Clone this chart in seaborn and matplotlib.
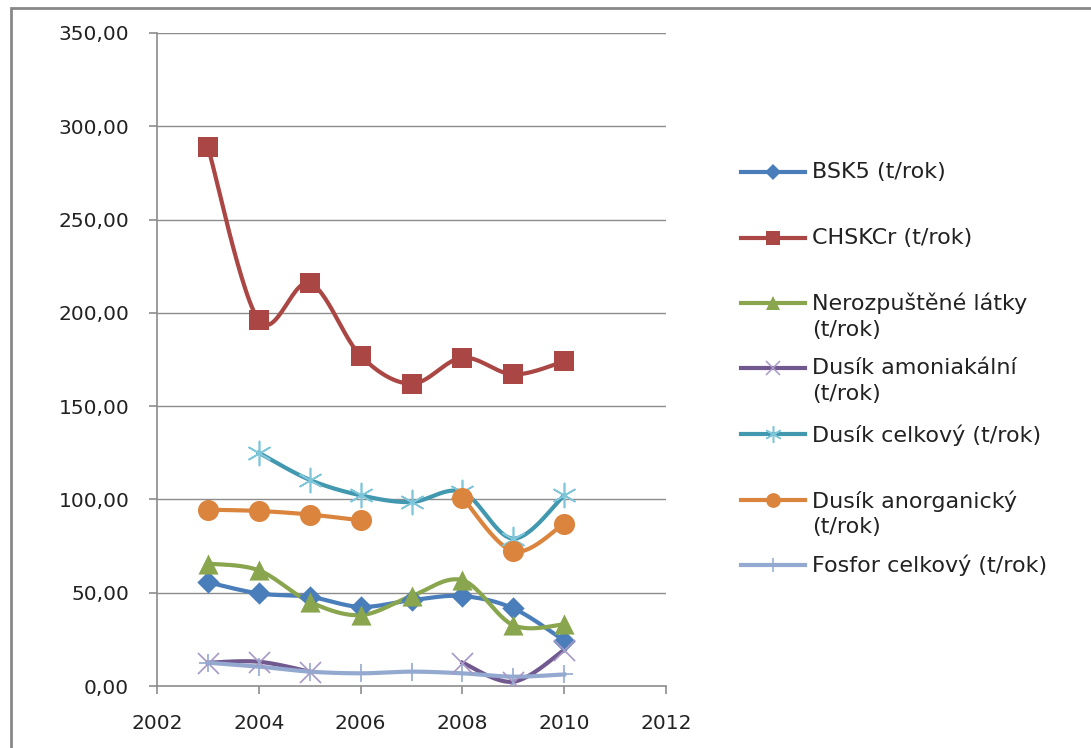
import numpy as np
import pandas as pd
import matplotlib
matplotlib.use("Agg")
import matplotlib.pyplot as plt
import seaborn as sns
from matplotlib.lines import Line2D
from matplotlib.patches import Rectangle
from matplotlib.ticker import FuncFormatter, MultipleLocator

nan = np.nan

years = [2003, 2004, 2005, 2006, 2007, 2008, 2009, 2010]
bsk5 = [55.6, 49.6, 47.8, 42.4, 46.0, 48.2, 41.6, 24.3]
chskcr = [289.0, 196.0, 216.0, 177.0, 162.0, 176.0, 167.0, 174.0]
nerozpustene = [65.6, 62.0, 45.1, 38.0, 48.2, 56.7, 32.6, 33.0]
dusik_amon = [12.5, 13.0, 7.7, nan, nan, 12.5, 2.3, 19.3]
dusik_celk = [nan, 125.0, 110.5, 102.2, 98.6, 104.0, 79.0, 102.2]
dusik_anorg = [94.5, 93.8, 91.9, 88.8, nan, 101.0, 72.2, 87.0]
fosfor = [12.5, 10.4, 7.7, 6.8, 7.7, 6.8, 5.0, 6.2]

labels = ["BSK5 (t/rok)", "CHSKCr (t/rok)", "Nerozpuštěné látky\n(t/rok)",
          "Dusík amoniakální\n(t/rok)", "Dusík celkový (t/rok)",
          "Dusík anorganický\n(t/rok)", "Fosfor celkový (t/rok)"]
series = [bsk5, chskcr, nerozpustene, dusik_amon, dusik_celk, dusik_anorg, fosfor]

# line colour, marker, marker colour, marker size (scatter s)
styles = [
    ("#4A7EBB", "D", "#4A7EBB", 130),
    ("#AA4643", "s", "#AA4643", 220),
    ("#89A54E", "^", "#89A54E", 210),
    ("#71588F", "x", "#A898C8", 230),
    ("#4198AF", (6, 2, 0), "#7FC6DA", 300),
    ("#DB843D", "o", "#DB843D", 230),
    ("#93A9CF", "+", "#93A9CF", 180),
]


def smooth(xs, ys, n=30):
    # excel-like smoothed line: bezier through points, catmull-rom handles
    xs = np.asarray(xs, float)
    ys = np.asarray(ys, float)
    if len(xs) < 2:
        return xs, ys
    px = np.concatenate([[xs[0]], xs, [xs[-1]]])
    py = np.concatenate([[ys[0]], ys, [ys[-1]]])
    t = np.linspace(0, 1, n)
    outx, outy = [], []
    for i in range(len(xs) - 1):
        p0 = np.array([px[i], py[i]])
        p1 = np.array([px[i + 1], py[i + 1]])
        p2 = np.array([px[i + 2], py[i + 2]])
        p3 = np.array([px[i + 3], py[i + 3]])
        c1 = p1 + (p2 - p0) / 6
        c2 = p2 - (p3 - p1) / 6
        b = ((1 - t) ** 3)[:, None] * p1 + (3 * (1 - t) ** 2 * t)[:, None] * c1 \
            + (3 * (1 - t) * t ** 2)[:, None] * c2 + (t ** 3)[:, None] * p2
        outx.extend(b[:, 0])
        outy.extend(b[:, 1])
    return np.array(outx), np.array(outy)


plt.rcParams["font.family"] = ["DejaVu Sans"]
fig = plt.figure(figsize=(10.91, 7.48), dpi=100)
ax = fig.add_axes([157 / 1091, 1 - 686 / 748, (666 - 157) / 1091, (686 - 33) / 748])

grid_c = "#8C8C8C"
for y in range(50, 351, 50):
    ax.axhline(y, color=grid_c, lw=1.0, zorder=0)

for vals, (lc, mk, mc, ms) in zip(series, styles):
    df = pd.DataFrame({"year": years, "value": vals})
    df["seg"] = df["value"].isna().cumsum()
    df = df.dropna()
    rows = []
    for sid, g in df.groupby("seg"):
        sx, sy = smooth(g["year"], g["value"])
        rows.append(pd.DataFrame({"x": sx, "y": sy, "seg": sid}))
    curve = pd.concat(rows, ignore_index=True)
    sns.lineplot(data=curve, x="x", y="y", units="seg", estimator=None, sort=False,
                 color=lc, lw=3.0, ax=ax, zorder=3)
    if mk in ("x", "+") or isinstance(mk, tuple):
        sns.scatterplot(data=df, x="year", y="value", marker=mk, s=ms, color=mc,
                        linewidth=1.2, ax=ax, zorder=4)
    else:
        sns.scatterplot(data=df, x="year", y="value", marker=mk, s=ms, color=mc,
                        edgecolor=mc, linewidth=0, ax=ax, zorder=4)

ax.set_xlim(2002, 2012)
ax.set_ylim(0, 350)
ax.xaxis.set_major_locator(MultipleLocator(2))
ax.yaxis.set_major_locator(MultipleLocator(50))
ax.yaxis.set_major_formatter(FuncFormatter(lambda v, p: f"{v:.2f}".replace(".", ",")))
ax.set_xlabel("")
ax.set_ylabel("")
for s in ["top", "right"]:
    ax.spines[s].set_visible(False)
for s in ["left", "bottom"]:
    ax.spines[s].set_color(grid_c)
    ax.spines[s].set_linewidth(1.2)
ax.tick_params(axis="both", color=grid_c, length=6, width=1.2, labelsize=14.5,
               labelcolor="#222222")
ax.tick_params(axis="y", pad=14)
ax.tick_params(axis="x", pad=14)
ax.patch.set_visible(False)

# legend drawn by hand so wrapped labels sit like excel's
leg_y = [172, 238, 303, 368, 434, 500, 565]
for lab, py, (lc, mk, mc, ms) in zip(labels, leg_y, styles):
    fy = 1 - py / 748
    fig.add_artist(Line2D([741 / 1091, 805 / 1091], [fy, fy], color=lc, lw=3.0,
                          transform=fig.transFigure))
    filled = not (mk in ("x", "+") or isinstance(mk, tuple))
    fig.add_artist(Line2D([773 / 1091], [fy], marker=mk, ms=np.sqrt(ms) * 0.7,
                          color=mc, mec=mc, mew=0 if filled else 1.1,
                          ls="none", transform=fig.transFigure))
    fig.text(812 / 1091, fy + 10 / 748, lab, ha="left", va="top", fontsize=16,
             color="#222222", linespacing=1.35)

# outer chart frame
fig.add_artist(Rectangle((11 / 1091, -0.05), 1.1, 1 - 8 / 748 + 0.05, fill=False,
                         edgecolor="#888888", lw=2, transform=fig.transFigure))

fig.savefig("out.png", dpi=100)
